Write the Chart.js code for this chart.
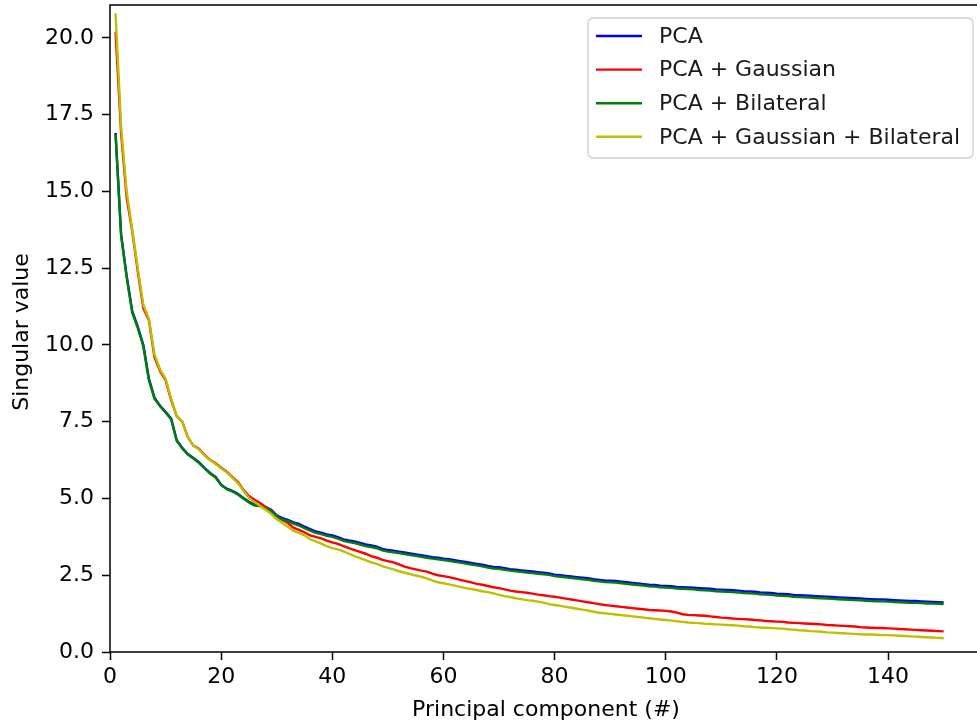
<!DOCTYPE html>
<html>
<head>
<meta charset="utf-8">
<script src="https://cdn.jsdelivr.net/npm/chart.js@4"></script>
<style>
  html, body { margin: 0; padding: 0; background: #fff; overflow: hidden; }
  #wrap { position: relative; width: 977px; height: 723px; }
</style>
</head>
<body>
<div id="wrap"><canvas id="chart"></canvas></div>
<script>
// data
const seriesNames = ["PCA", "PCA + Gaussian", "PCA + Bilateral", "PCA + Gaussian + Bilateral"]
const seriesColors = ["#0000ff", "#ff0000", "#008000", "#bfbf00"]
const xTicks = [0, 20, 40, 60, 80, 100, 120, 140]
const yTicks = [0, 2.5, 5, 7.5, 10, 12.5, 15, 17.5, 20]

const pca = [
  16.9, 13.6, 12.25, 11.1, 10.6, 10.0, 8.9, 8.28, 8.02, 7.82,
  7.6, 6.9, 6.65, 6.45, 6.32, 6.18, 6.0, 5.83, 5.7, 5.45,
  5.32, 5.25, 5.15, 5.02, 4.89, 4.8, 4.79, 4.72, 4.63, 4.45,
  4.36, 4.3, 4.22, 4.17, 4.08, 4.0, 3.93, 3.89, 3.83, 3.8,
  3.74, 3.67, 3.63, 3.6, 3.55, 3.5, 3.47, 3.43, 3.36, 3.32,
  3.3, 3.27, 3.24, 3.21, 3.18, 3.15, 3.12, 3.09, 3.07, 3.04,
  3.02, 2.99, 2.96, 2.93, 2.9, 2.87, 2.84, 2.8, 2.77, 2.76,
  2.73, 2.7, 2.68, 2.66, 2.64, 2.62, 2.6, 2.58, 2.56, 2.52,
  2.5, 2.48, 2.46, 2.44, 2.42, 2.4, 2.37, 2.35, 2.33, 2.32,
  2.31, 2.29, 2.27, 2.25, 2.23, 2.21, 2.19, 2.18, 2.16, 2.15,
  2.14, 2.12, 2.11, 2.1, 2.09, 2.08, 2.07, 2.06, 2.04, 2.03,
  2.02, 2.01, 2.0, 1.98, 1.97, 1.96, 1.94, 1.93, 1.92, 1.9,
  1.89, 1.88, 1.86, 1.85, 1.84, 1.83, 1.82, 1.81, 1.8, 1.79,
  1.78, 1.77, 1.76, 1.75, 1.74, 1.73, 1.72, 1.71, 1.71, 1.7,
  1.69, 1.68, 1.67, 1.66, 1.66, 1.65, 1.64, 1.63, 1.62, 1.61
]
const pcaGauss = [
  20.2, 16.9, 14.8, 13.7, 12.4, 11.2, 10.8, 9.6, 9.15, 8.85,
  8.2, 7.68, 7.5, 7.0, 6.72, 6.62, 6.42, 6.26, 6.15, 6.0,
  5.87, 5.7, 5.54, 5.28, 5.08, 4.96, 4.85, 4.72, 4.6, 4.42,
  4.3, 4.2, 4.05, 3.98, 3.9, 3.8, 3.75, 3.7, 3.63, 3.57,
  3.52, 3.45, 3.38, 3.32, 3.26, 3.2, 3.12, 3.07, 3.0, 2.96,
  2.92, 2.85, 2.78, 2.73, 2.69, 2.65, 2.62, 2.55, 2.5, 2.47,
  2.44, 2.4, 2.35, 2.31, 2.27, 2.22, 2.19, 2.15, 2.11, 2.08,
  2.04, 2.0, 1.97, 1.95, 1.93, 1.9, 1.87, 1.85, 1.82, 1.8,
  1.77, 1.74, 1.71, 1.68, 1.65, 1.62, 1.59, 1.56, 1.53, 1.51,
  1.49, 1.47, 1.45, 1.43, 1.41, 1.39, 1.37, 1.36, 1.35, 1.34,
  1.32, 1.28, 1.23, 1.21, 1.2, 1.19, 1.18, 1.16, 1.14, 1.12,
  1.11, 1.09, 1.08, 1.07, 1.06, 1.04, 1.03, 1.01, 1.0, 0.99,
  0.98, 0.96, 0.95, 0.94, 0.93, 0.92, 0.91, 0.9, 0.88, 0.87,
  0.86, 0.85, 0.84, 0.83, 0.81, 0.8, 0.79, 0.78, 0.78, 0.77,
  0.76, 0.75, 0.74, 0.73, 0.72, 0.71, 0.7, 0.69, 0.68, 0.67
]
const pcaBilat = [
  16.85, 13.55, 12.2, 11.05, 10.55, 9.95, 8.85, 8.25, 8.0, 7.8,
  7.58, 6.88, 6.63, 6.43, 6.3, 6.16, 5.98, 5.81, 5.68, 5.43,
  5.3, 5.23, 5.13, 5.0, 4.87, 4.77, 4.75, 4.68, 4.59, 4.41,
  4.32, 4.26, 4.18, 4.12, 4.03, 3.95, 3.88, 3.84, 3.78, 3.75,
  3.69, 3.62, 3.58, 3.55, 3.5, 3.45, 3.42, 3.38, 3.31, 3.27,
  3.25, 3.22, 3.19, 3.16, 3.13, 3.1, 3.07, 3.04, 3.02, 2.99,
  2.97, 2.94, 2.91, 2.88, 2.85, 2.82, 2.79, 2.75, 2.72, 2.71,
  2.68, 2.65, 2.63, 2.61, 2.59, 2.57, 2.55, 2.53, 2.51, 2.47,
  2.45, 2.43, 2.41, 2.39, 2.37, 2.35, 2.32, 2.3, 2.28, 2.27,
  2.26, 2.24, 2.22, 2.2, 2.18, 2.16, 2.14, 2.13, 2.11, 2.1,
  2.09, 2.07, 2.06, 2.05, 2.04, 2.02, 2.01, 2.0, 1.98, 1.97,
  1.96, 1.95, 1.94, 1.92, 1.91, 1.9, 1.88, 1.87, 1.86, 1.84,
  1.83, 1.82, 1.8, 1.79, 1.78, 1.77, 1.76, 1.75, 1.74, 1.73,
  1.72, 1.71, 1.7, 1.69, 1.68, 1.67, 1.66, 1.65, 1.65, 1.64,
  1.63, 1.62, 1.61, 1.6, 1.6, 1.59, 1.58, 1.58, 1.57, 1.56
]
const pcaGaussBilat = [
  20.8, 17.1, 15.0, 13.75, 12.5, 11.3, 10.85, 9.7, 9.2, 8.9,
  8.25, 7.7, 7.5, 7.0, 6.72, 6.6, 6.4, 6.25, 6.12, 5.98,
  5.85, 5.68, 5.5, 5.25, 5.02, 4.88, 4.76, 4.63, 4.5, 4.32,
  4.2, 4.08, 3.95, 3.88, 3.8, 3.67, 3.6, 3.53, 3.45, 3.38,
  3.34, 3.28, 3.2, 3.12, 3.06, 2.99, 2.92, 2.87, 2.8, 2.74,
  2.69, 2.63, 2.58, 2.54, 2.49, 2.45, 2.4, 2.33, 2.27, 2.24,
  2.2, 2.16, 2.12, 2.08, 2.05, 2.02, 1.98, 1.95, 1.91, 1.86,
  1.82, 1.79, 1.75, 1.72, 1.69, 1.67, 1.64, 1.61, 1.56, 1.53,
  1.5, 1.47, 1.44, 1.41, 1.38, 1.35, 1.31, 1.28, 1.26, 1.24,
  1.22, 1.2, 1.18, 1.16, 1.14, 1.12, 1.1, 1.08, 1.06, 1.04,
  1.02, 1.0, 0.98, 0.96, 0.95, 0.94, 0.92, 0.91, 0.9, 0.89,
  0.88, 0.87, 0.86, 0.84, 0.83, 0.81, 0.8, 0.79, 0.78, 0.77,
  0.76, 0.74, 0.73, 0.71, 0.7, 0.68, 0.67, 0.66, 0.64, 0.63,
  0.62, 0.61, 0.6, 0.59, 0.58, 0.57, 0.57, 0.56, 0.55, 0.55,
  0.54, 0.53, 0.52, 0.51, 0.5, 0.49, 0.48, 0.47, 0.46, 0.45
]
const components = pca.map((v, i) => i + 1)

const FONT = "'DejaVu Sans', sans-serif"

const toPoints = arr => arr.map((v, i) => ({ x: components[i], y: v }))

// no extra room for tick labels, the plot box is set by the fixed sizes
const noPad = s => {
  s.paddingTop = 0
  s.paddingBottom = 0
  s.paddingLeft = 0
  s.paddingRight = 0
}

// matplotlib style frame, axis titles and the legend box
const decor = {
  id: 'decor',
  afterDraw(chart) {
    const ctx = chart.ctx
    const a = chart.chartArea
    ctx.save()
    ctx.strokeStyle = '#000'
    ctx.lineWidth = 1.5
    ctx.beginPath()
    ctx.moveTo(a.left, a.bottom)
    ctx.lineTo(a.left, a.top)
    ctx.lineTo(a.right + 2, a.top)
    ctx.moveTo(a.left, a.bottom)
    ctx.lineTo(a.right + 2, a.bottom)
    ctx.stroke()

    ctx.fillStyle = '#000'
    ctx.font = '22px ' + FONT
    ctx.textAlign = 'center'
    ctx.textBaseline = 'alphabetic'
    ctx.fillText('Principal component (#)', 546, 716)
    ctx.save()
    ctx.translate(28, 332)
    ctx.rotate(-Math.PI / 2)
    ctx.fillText('Singular value', 0, 0)
    ctx.restore()

    // legend
    const lx = 588, ly = 18, lw = 385, lh = 140, r = 5
    ctx.beginPath()
    ctx.moveTo(lx + r, ly)
    ctx.arcTo(lx + lw, ly, lx + lw, ly + lh, r)
    ctx.arcTo(lx + lw, ly + lh, lx, ly + lh, r)
    ctx.arcTo(lx, ly + lh, lx, ly, r)
    ctx.arcTo(lx, ly, lx + lw, ly, r)
    ctx.closePath()
    ctx.fillStyle = 'rgba(255,255,255,0.8)'
    ctx.fill()
    ctx.strokeStyle = '#cccccc'
    ctx.lineWidth = 1.3
    ctx.stroke()

    ctx.textAlign = 'left'
    ctx.textBaseline = 'middle'
    seriesNames.forEach((name, i) => {
      const y = 36 + i * 33.6
      ctx.strokeStyle = seriesColors[i]
      ctx.lineWidth = 2.4
      ctx.beginPath()
      ctx.moveTo(596, y)
      ctx.lineTo(642, y)
      ctx.stroke()
      ctx.fillStyle = '#1a1a1a'
      ctx.fillText(name, 659, y + 1)
    })
    ctx.restore()
  }
}

const datasets = [pca, pcaGauss, pcaBilat, pcaGaussBilat].map((arr, i) => ({
  label: seriesNames[i],
  data: toPoints(arr),
  borderColor: seriesColors[i],
  borderWidth: 2.4,
  pointRadius: 0,
  fill: false,
  tension: 0,
  order: 4 - i
}))

const config = {
  type: 'line',
  data: { datasets: datasets },
  options: {
    responsive: true,
    maintainAspectRatio: false,
    animation: false,
    layout: { padding: { top: 5, right: 0, left: 0, bottom: 0 } },
    scales: {
      x: {
        type: 'linear',
        min: 0,
        max: 156,
        afterFit: s => { s.height = 71; noPad(s) },
        afterBuildTicks: s => { s.ticks = xTicks.map(v => ({ value: v })) },
        grid: { drawOnChartArea: false, drawTicks: true, tickLength: 8, tickColor: '#000', tickWidth: 1.5 },
        border: { display: false },
        ticks: { color: '#000', font: { family: FONT, size: 22 }, padding: 4, maxRotation: 0, autoSkip: false }
      },
      y: {
        min: 0,
        max: 21.07,
        afterFit: s => { s.width = 110; noPad(s) },
        afterBuildTicks: s => { s.ticks = yTicks.map(v => ({ value: v })) },
        grid: { drawOnChartArea: false, drawTicks: true, tickLength: 8, tickColor: '#000', tickWidth: 1.5 },
        border: { display: false },
        ticks: { color: '#000', font: { family: FONT, size: 22 }, padding: 8, callback: v => v.toFixed(1) }
      }
    },
    plugins: {
      legend: { display: false },
      tooltip: { enabled: false }
    }
  },
  plugins: [decor]
}

const ctx = document.getElementById('chart').getContext('2d')
const myChart = new Chart(ctx, config)
</script>
</body>
</html>
